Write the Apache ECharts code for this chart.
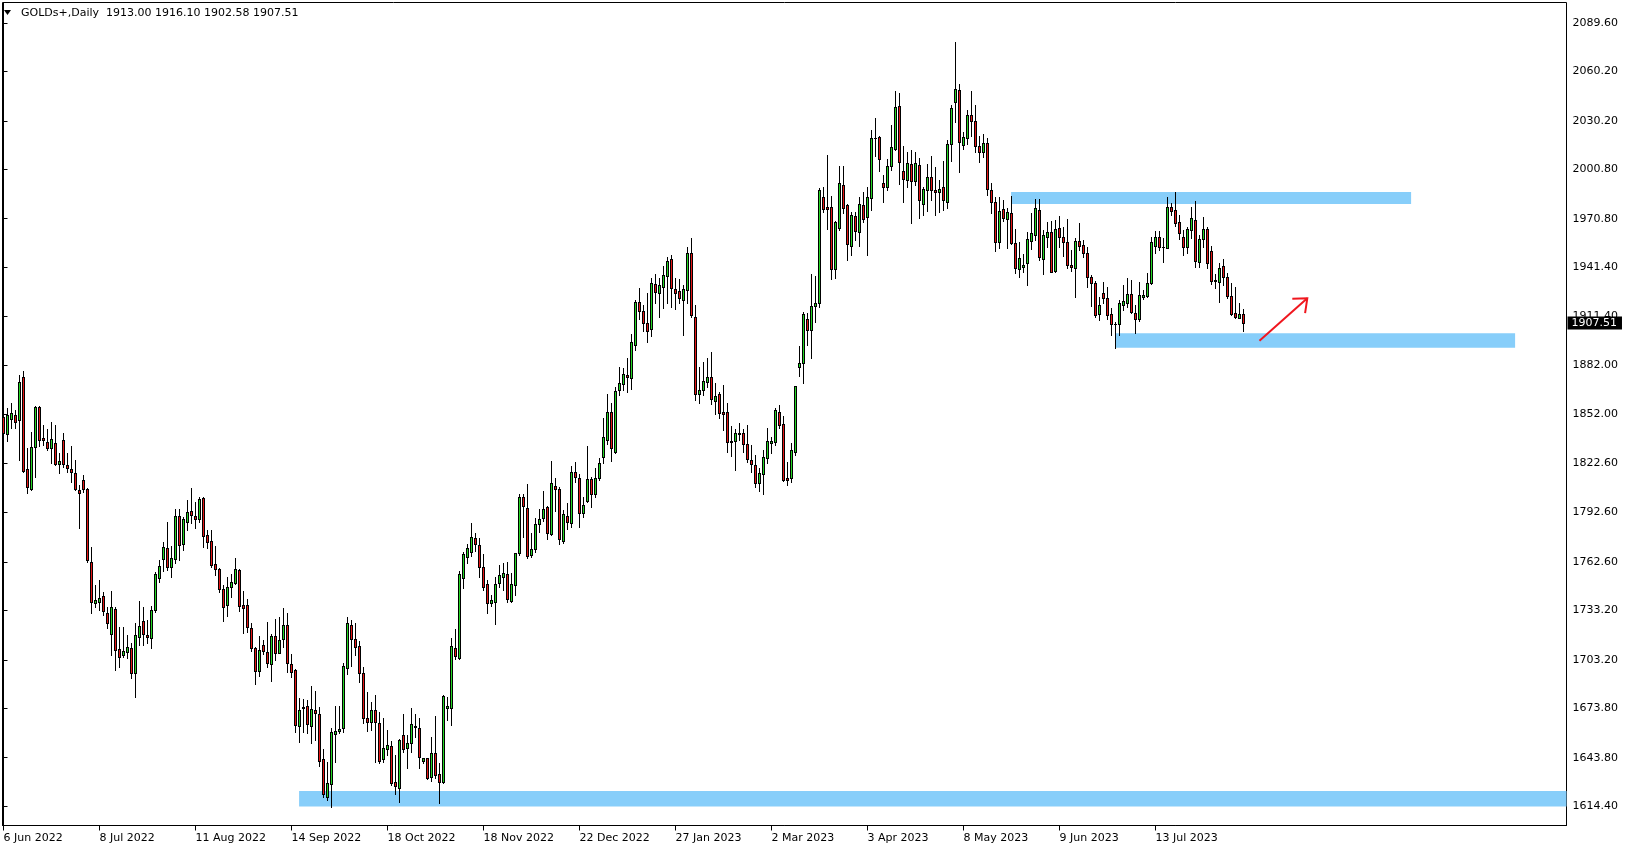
<!DOCTYPE html>
<html>
<head>
<meta charset="utf-8">
<script src="https://cdn.jsdelivr.net/npm/echarts@6/dist/echarts.min.js"></script>
<style>
html,body{margin:0;padding:0;background:#fff;}
#chart{width:1629px;height:850px;}
</style>
</head>
<body>
<div id="chart"></div>
<script>
// ---- data (bar index 0 = 6 Jun 2022, daily bars) ----
const symbolName = 'GOLDs+';
const timeframe = 'Daily';

const opens = [
1850.3,1840.2,1849.1,1851.5,1848.5,1874.8,1818.7,1806.6,1832.5,1856.4,
1837.5,1835.3,1831.5,1834.5,1821.8,1836.5,1821.2,1818.9,1816.3,1806.2,
1812.3,1806.6,1762.7,1737.5,1738.1,1741.9,1731.4,1718.9,1733.8,1709.6,
1706.1,1708.2,1710.2,1695.0,1716.8,1726.8,1718.2,1716.2,1733.4,1752.6,
1764.1,1770.8,1759.7,1764.6,1790.4,1773.3,1787.0,1793.3,1790.4,1788.4,
1801.2,1778.7,1775.1,1761.1,1758.1,1746.1,1736.2,1747.6,1750.0,1757.7,
1736.2,1736.2,1722.3,1710.2,1696.2,1712.0,1707.9,1700.5,1717.6,1707.5,
1715.6,1724.1,1700.7,1697.0,1663.2,1674.8,1675.2,1663.2,1672.7,1670.1,
1642.8,1620.2,1627.6,1658.4,1660.0,1661.6,1698.0,1724.3,1715.6,1711.6,
1695.0,1667.7,1665.3,1672.7,1664.6,1643.0,1648.9,1650.9,1629.3,1625.6,
1657.6,1649.5,1652.5,1662.6,1661.6,1641.8,1643.4,1632.3,1646.4,1633.7,
1629.3,1673.8,1673.8,1710.6,1704.1,1753.0,1765.4,1768.4,1776.9,1772.8,
1759.5,1749.2,1737.5,1738.5,1750.0,1753.6,1755.2,1739.1,1748.6,1767.8,
1801.8,1795.5,1766.8,1770.4,1785.4,1789.0,1795.7,1779.3,1808.8,1806.6,
1775.3,1790.6,1786.0,1816.9,1813.3,1792.1,1799.7,1812.7,1803.6,1813.3,
1826.0,1836.6,1853.3,1829.1,1866.9,1870.3,1875.9,1874.4,1894.2,1920.1,
1914.6,1907.3,1903.7,1931.0,1925.5,1929.6,1936.2,1946.1,1928.0,1927.0,
1921.5,1927.5,1949.8,1910.9,1864.4,1866.9,1871.5,1874.6,1860.4,1864.2,
1853.3,1853.3,1835.9,1835.9,1840.6,1840.6,1834.1,1824.4,1821.4,1810.3,
1815.9,1825.4,1834.9,1835.1,1853.3,1846.3,1813.3,1813.3,1829.5,1880.6,
1883.1,1909.8,1903.5,1918.0,1919.5,1983.8,1977.7,1977.7,1940.5,1964.9,
1991.2,1979.1,1954.4,1972.4,1962.5,1979.1,1971.6,1983.2,2019.6,2020.2,
1992.3,1990.2,2002.8,2013.1,2039.4,1999.7,1994.3,2004.0,1993.9,2003.4,
1979.5,1988.2,1996.3,1988.2,1986.8,1990.2,1980.7,2015.9,2041.8,2048.9,
2015.5,2019.6,2034.0,2030.0,2015.0,2011.0,2017.0,1988.2,1980.7,1956.5,
1976.7,1970.4,1974.1,1955.9,1940.1,1941.3,1943.7,1957.5,1960.9,1976.1,
1946.1,1959.9,1962.9,1939.3,1964.9,1959.9,1956.9,1942.7,1941.1,1957.3,
1954.8,1949.8,1935.2,1931.6,1913.0,1925.5,1922.5,1912.8,1906.9,1906.9,
1918.4,1919.9,1925.1,1913.8,1909.8,1923.5,1923.9,1931.6,1954.2,1959.5,
1953.8,1953.2,1977.7,1976.1,1969.0,1959.5,1953.8,1963.9,1970.0,1944.7,
1958.3,1964.3,1951.2,1933.6,1932.6,1942.1,1935.2,1923.9,1913.8,1910.8,
1913.00
];

const closes = [
1840.6,1851.5,1852.7,1847.3,1871.5,1817.9,1807.8,1832.5,1856.4,1836.5,
1836.5,1831.9,1836.9,1821.8,1823.6,1822.0,1819.4,1816.9,1806.6,1804.6,
1806.6,1763.7,1738.1,1739.5,1740.5,1733.0,1725.3,1735.0,1709.2,1704.7,
1708.5,1710.8,1695.4,1718.2,1723.7,1719.0,1716.8,1733.4,1755.1,1760.3,
1771.4,1759.3,1764.8,1790.4,1772.6,1788.4,1793.1,1791.2,1788.8,1800.5,
1778.5,1774.9,1760.9,1758.1,1745.9,1735.4,1747.2,1750.2,1758.1,1736.0,
1734.8,1723.3,1710.2,1696.6,1709.2,1708.7,1701.5,1717.6,1707.5,1715.2,
1724.1,1701.5,1696.0,1663.6,1672.7,1674.2,1664.0,1673.1,1670.7,1642.0,
1621.6,1628.3,1659.2,1660.0,1661.2,1699.4,1725.3,1715.6,1711.2,1695.0,
1667.7,1665.3,1672.7,1665.7,1642.0,1649.5,1651.5,1628.7,1626.9,1654.5,
1649.1,1652.5,1664.0,1662.9,1644.4,1643.4,1631.7,1646.4,1633.3,1629.3,
1681.2,1675.2,1711.6,1705.7,1755.0,1767.2,1770.8,1777.9,1773.2,1759.7,
1747.6,1737.5,1739.5,1749.2,1754.6,1755.7,1739.9,1749.2,1767.8,1802.2,
1796.7,1766.0,1770.4,1785.4,1788.4,1794.5,1780.3,1810.3,1806.6,1776.3,
1791.5,1786.6,1816.9,1813.9,1792.1,1797.1,1812.7,1803.6,1813.7,1822.8,
1838.6,1853.7,1831.9,1866.3,1870.9,1876.4,1875.0,1896.2,1920.1,1914.8,
1907.8,1902.8,1931.6,1926.5,1930.6,1936.4,1945.1,1928.6,1925.9,1922.5,
1928.0,1949.8,1912.4,1864.4,1866.9,1872.3,1874.6,1861.2,1863.4,1852.7,
1852.1,1835.1,1835.1,1841.0,1840.3,1834.1,1824.8,1821.8,1810.3,1816.7,
1826.0,1835.9,1835.9,1854.7,1845.6,1812.3,1812.3,1830.5,1869.3,1883.1,
1913.0,1903.3,1918.0,1919.5,1988.2,1976.7,1976.5,1940.5,1969.0,1992.3,
1977.5,1955.4,1973.0,1963.5,1979.5,1970.4,1983.8,2019.6,2019.9,2006.8,
1990.2,2002.8,2014.1,2038.4,2005.0,1994.7,2004.4,1993.9,2004.4,1982.1,
1988.8,1996.3,1988.2,1986.8,1988.6,1982.1,2015.9,2037.8,2049.5,2017.1,
2020.2,2033.7,2030.0,2015.0,2011.0,2017.0,1988.6,1981.1,1956.5,1975.5,
1971.0,1974.7,1956.3,1940.7,1946.8,1942.7,1958.3,1961.9,1977.1,1947.8,
1960.9,1962.5,1938.7,1964.3,1959.5,1956.9,1942.7,1941.3,1957.3,1954.4,
1949.8,1935.6,1931.6,1912.4,1918.2,1922.5,1912.4,1906.9,1906.7,1919.5,
1920.9,1925.1,1914.4,1909.8,1924.5,1924.5,1931.6,1956.5,1959.5,1953.4,
1953.9,1977.7,1975.7,1968.4,1961.9,1953.8,1964.3,1971.0,1945.3,1958.3,
1964.3,1943.7,1933.2,1932.8,1940.7,1935.6,1923.9,1913.0,1911.4,1912.8,
1907.51
];

const lows = [
1839.6,1836.1,1843.6,1843.6,1824.4,1817.3,1804.2,1806.2,1814.3,1832.9,
1833.5,1830.5,1822.4,1821.4,1816.3,1820.4,1817.3,1811.3,1806.2,1783.4,
1805.2,1762.7,1731.4,1735.0,1733.4,1730.4,1722.3,1706.1,1697.0,1699.0,
1705.1,1704.1,1692.0,1680.8,1712.2,1712.2,1713.2,1710.2,1732.4,1750.6,
1757.3,1757.7,1753.6,1762.1,1763.7,1769.8,1782.0,1786.4,1783.0,1787.0,
1771.8,1770.8,1759.3,1754.6,1744.5,1727.0,1730.0,1741.5,1749.2,1733.0,
1719.7,1720.3,1708.7,1688.3,1693.4,1706.7,1699.0,1690.5,1703.1,1707.1,
1711.2,1696.0,1693.0,1659.6,1653.5,1659.2,1658.6,1652.9,1654.5,1638.8,
1620.2,1618.0,1614.1,1641.0,1658.6,1659.2,1694.4,1699.6,1706.1,1689.9,
1664.6,1660.0,1660.6,1641.4,1640.4,1641.4,1645.5,1627.3,1621.6,1616.7,
1647.1,1637.3,1647.5,1656.6,1637.3,1640.4,1630.9,1629.7,1631.3,1616.1,
1628.3,1666.7,1663.6,1703.7,1703.7,1746.5,1761.7,1766.4,1769.2,1753.6,
1745.5,1731.8,1735.8,1724.9,1747.6,1745.5,1738.5,1738.5,1742.5,1766.8,
1777.9,1764.8,1765.5,1768.8,1780.5,1787.4,1776.5,1778.9,1793.5,1773.2,
1773.9,1782.6,1784.0,1810.9,1784.0,1790.0,1799.1,1796.1,1802.2,1812.3,
1822.4,1834.0,1823.8,1828.5,1863.8,1866.9,1865.9,1867.5,1891.1,1910.0,
1902.7,1895.7,1899.6,1919.9,1911.0,1916.4,1919.4,1917.4,1915.8,1919.9,
1900.2,1919.9,1910.9,1860.8,1858.8,1863.8,1868.5,1858.4,1852.3,1849.7,
1842.6,1829.5,1826.8,1818.3,1836.5,1829.5,1823.4,1817.3,1807.8,1805.8,
1803.8,1822.4,1828.9,1833.5,1843.6,1811.9,1809.2,1811.3,1827.5,1875.4,
1870.9,1894.0,1886.0,1908.0,1917.0,1974.7,1964.6,1934.0,1935.0,1963.9,
1974.0,1945.7,1948.8,1957.9,1954.4,1969.0,1948.8,1976.1,2009.0,1999.7,
1980.7,1988.2,2000.3,2012.5,1991.6,1980.7,1990.2,1968.4,1991.2,1971.0,
1973.0,1975.5,1982.1,1973.0,1975.1,1976.1,1977.1,2005.8,2029.7,1998.9,
2013.1,2016.0,2021.0,2011.0,2005.0,2008.0,1985.2,1974.1,1951.4,1953.2,
1969.6,1953.2,1955.4,1938.0,1935.6,1938.7,1930.6,1952.2,1957.9,1945.7,
1937.2,1953.8,1938.5,1938.7,1953.8,1948.2,1940.7,1939.3,1923.5,1951.8,
1947.4,1929.2,1917.8,1911.4,1909.4,1919.9,1909.8,1900.2,1892.2,1900.2,
1915.4,1917.4,1913.4,1901.2,1908.9,1921.9,1923.5,1931.2,1950.2,1951.8,
1944.7,1952.8,1973.0,1966.4,1958.3,1948.8,1950.2,1958.9,1941.7,1941.3,
1953.8,1940.7,1931.2,1928.6,1920.5,1930.6,1922.5,1912.4,1910.4,1910.4,
1902.58
];

const highs = [
1856.8,1855.7,1858.8,1854.7,1876.0,1878.4,1831.5,1841.6,1857.2,1857.0,
1845.6,1843.0,1847.7,1845.4,1828.5,1840.6,1828.9,1832.9,1824.4,1809.2,
1815.3,1807.2,1771.8,1748.6,1751.6,1744.5,1735.4,1745.1,1735.4,1723.3,
1723.3,1718.2,1713.2,1725.3,1739.1,1735.4,1727.4,1735.8,1756.7,1763.7,
1774.9,1787.0,1772.2,1794.5,1794.5,1790.0,1800.1,1807.2,1798.7,1802.2,
1801.8,1782.0,1782.0,1772.2,1758.7,1748.6,1753.2,1755.0,1764.8,1758.1,
1744.9,1739.9,1725.7,1710.8,1717.6,1715.2,1726.1,1718.8,1727.7,1729.4,
1734.4,1731.4,1706.7,1697.4,1679.8,1679.2,1678.8,1687.3,1684.5,1674.8,
1648.9,1641.4,1661.6,1675.4,1675.4,1701.0,1729.4,1727.3,1725.3,1714.6,
1699.0,1683.9,1677.8,1681.8,1671.7,1668.1,1660.6,1653.9,1645.5,1655.0,
1670.1,1657.6,1674.2,1670.1,1667.7,1643.8,1643.8,1656.6,1669.3,1640.4,
1681.8,1680.8,1716.2,1721.9,1757.1,1768.4,1773.2,1786.0,1779.9,1776.9,
1767.2,1751.6,1742.5,1753.6,1760.7,1761.7,1762.7,1755.7,1768.2,1803.6,
1803.6,1809.6,1779.9,1789.4,1794.7,1805.6,1796.7,1823.8,1813.3,1808.2,
1794.1,1798.1,1821.0,1823.0,1815.7,1802.2,1833.1,1814.3,1819.4,1825.4,
1849.7,1864.2,1858.8,1868.9,1881.0,1880.4,1886.1,1900.7,1921.5,1928.9,
1918.4,1925.5,1934.6,1937.3,1934.6,1942.1,1947.8,1948.8,1934.6,1934.0,
1930.6,1953.8,1958.9,1918.4,1880.6,1884.1,1886.1,1890.1,1871.3,1865.9,
1869.9,1859.2,1845.0,1843.0,1846.6,1843.0,1845.6,1833.5,1827.5,1819.4,
1830.5,1843.6,1838.2,1855.8,1857.8,1851.1,1823.4,1834.9,1869.5,1893.6,
1914.4,1913.5,1937.0,1936.0,1989.2,1990.2,2009.4,1984.6,1969.4,2002.8,
2002.8,1979.5,1974.7,1974.7,1983.8,1986.8,1989.8,2024.6,2031.7,2021.2,
1997.3,2007.0,2027.6,2048.3,2046.9,2014.9,2011.0,2012.5,2011.5,2007.4,
1990.2,2003.8,2008.8,2002.4,1994.3,2005.8,2018.5,2039.8,2078.2,2052.3,
2023.6,2037.0,2048.0,2040.0,2021.0,2022.0,2020.0,1992.2,1983.8,1983.8,
1982.1,1977.1,1984.6,1964.3,1956.7,1949.4,1962.9,1974.1,1982.5,1982.5,
1964.0,1969.0,1969.6,1970.0,1972.4,1966.0,1970.4,1951.8,1958.9,1968.0,
1957.9,1953.8,1936.6,1933.2,1923.1,1932.6,1929.6,1916.4,1908.3,1921.5,
1930.6,1934.6,1933.6,1918.4,1932.6,1927.5,1938.1,1959.5,1963.5,1963.5,
1958.9,1983.8,1980.5,1987.2,1973.1,1964.0,1966.0,1977.7,1981.7,1960.9,
1972.0,1965.6,1954.2,1937.2,1943.7,1946.1,1937.7,1931.6,1929.6,1919.9,
1916.10
];

// date labels along the time axis (bar index of each label)
const dateLabelIndex = [0,24,48,72,96,120,144,168,192,216,240,264,288];
const dateLabels = ['6 Jun 2022','8 Jul 2022','11 Aug 2022','14 Sep 2022','18 Oct 2022','18 Nov 2022',
  '22 Dec 2022','27 Jan 2023','2 Mar 2023','3 Apr 2023','8 May 2023','9 Jun 2023','13 Jul 2023'];

// price scale labels
const priceTicks = [2089.60,2060.20,2030.20,2000.80,1970.80,1941.40,1911.40,1882.00,
  1852.00,1822.60,1792.60,1762.60,1733.20,1703.20,1673.80,1643.80,1614.40];

// support / resistance zones [fromBar, toBar, lowPrice, highPrice]
const zoneResistance = [251.9, 351.9, 1979.7, 1987.0];
const zoneSupport    = [277.9, 377.9, 1892.5, 1901.3];
const zoneMajor      = [73.9, 390.75, 1614.2, 1623.6];

// arrow annotation [bar, price]
const arrowFrom = [314.0, 1896.8];
const arrowTo   = [325.95, 1922.5];

// ---- chart ----
const FONT = 'DejaVu Sans';
const BULL = '#24d624', BEAR = '#e41616';
const n = opens.length;
const last = n - 1;
const candleData = opens.map((o, i) => [i, o, closes[i], lows[i], highs[i]]);
const zoneData = [zoneResistance, zoneSupport, zoneMajor];
const fmt = v => Number(v).toFixed(2);
const headerText = symbolName + ',' + timeframe + '  ' +
  [opens[last], highs[last], lows[last], closes[last]].map(fmt).join(' ');

const yMin = 1602.69, yMax = 2101.95;

function renderCandle(params, api) {
  const i = api.value(0);
  const o = api.value(1), c = api.value(2), l = api.value(3), h = api.value(4);
  const pO = api.coord([i, o]), pC = api.coord([i, c]);
  const pL = api.coord([i, l]), pH = api.coord([i, h]);
  const col = Math.floor(pO[0]);
  const yTop = Math.round(Math.min(pO[1], pC[1]));
  const yBot = Math.round(Math.max(pO[1], pC[1]));
  const yHi = Math.round(pH[1]), yLo = Math.round(pL[1]);
  const children = [
    {type: 'rect', shape: {x: col, y: yHi, width: 1, height: Math.max(1, yLo - yHi + 1)}, style: {fill: '#000'}},
    {type: 'rect', shape: {x: col - 1, y: yTop, width: 3, height: yBot - yTop + 1}, style: {fill: '#000'}}
  ];
  if (yBot - yTop >= 2) {
    children.push({type: 'rect', shape: {x: col, y: yTop + 1, width: 1, height: yBot - yTop - 1},
      style: {fill: c >= o ? BULL : BEAR}});
  }
  return {type: 'group', children: children};
}

const chart = echarts.init(document.getElementById('chart'), null, {renderer: 'canvas'});

const option = {
  animation: false,
  backgroundColor: '#ffffff',
  title: {
    text: headerText,
    left: 21,
    top: 8,
    padding: 0,
    textStyle: {fontFamily: FONT, fontSize: 11, fontWeight: 'normal', color: '#000', lineHeight: 11}
  },
  grid: {
    left: 2.5, top: 2.5, width: 1564, height: 823,
    show: true, borderColor: '#000', borderWidth: 1, backgroundColor: '#fff',
    containLabel: false
  },
  xAxis: {
    type: 'value',
    min: -0.25, max: 390.75,
    axisLine: {show: true, lineStyle: {color: '#000', width: 1}},
    splitLine: {show: false},
    axisTick: {show: true, customValues: dateLabelIndex, length: 5, inside: false, lineStyle: {color: '#000'}},
    axisLabel: {
      customValues: dateLabelIndex,
      formatter: v => dateLabels[dateLabelIndex.indexOf(Math.round(v))] || '',
      align: 'left', margin: 7,
      fontFamily: FONT, fontSize: 11, color: '#000'
    }
  },
  yAxis: [{
    type: 'value',
    position: 'right',
    min: yMin, max: yMax,
    axisLine: {show: true, lineStyle: {color: '#000', width: 1}},
    splitLine: {show: false},
    axisTick: {show: true, customValues: priceTicks, length: 4, lineStyle: {color: '#000'}},
    axisLabel: {
      customValues: priceTicks,
      formatter: v => fmt(v),
      margin: 6, fontFamily: FONT, fontSize: 11, color: '#000'
    }
  }, {
    type: 'value',
    position: 'right',
    min: yMin, max: yMax,
    z: 5,
    axisLine: {show: false},
    splitLine: {show: false},
    axisTick: {show: false},
    axisLabel: {
      customValues: [closes[last]],
      formatter: v => fmt(v),
      margin: 1,
      fontFamily: FONT, fontSize: 11, color: '#fff', lineHeight: 11,
      backgroundColor: '#000', padding: [1, 5, 1, 4]
    }
  }],
  series: [{
    type: 'custom',
    name: 'zones',
    silent: true,
    z: 1,
    clip: true,
    data: zoneData,
    encode: {x: [0, 1], y: [2, 3]},
    renderItem: function (params, api) {
      const p1 = api.coord([api.value(0), api.value(3)]);
      const p2 = api.coord([api.value(1), api.value(2)]);
      const rect = echarts.graphic.clipRectByRect(
        {x: p1[0], y: p1[1], width: p2[0] - p1[0], height: p2[1] - p1[1]},
        {x: params.coordSys.x, y: params.coordSys.y, width: params.coordSys.width, height: params.coordSys.height}
      );
      return rect && {type: 'rect', shape: rect, style: {fill: '#87CEFA'}};
    }
  }, {
    type: 'custom',
    name: symbolName,
    z: 2,
    clip: true,
    data: candleData,
    encode: {x: 0, y: [1, 2, 3, 4]},
    renderItem: renderCandle
  }]
};
chart.setOption(option);

// arrow annotation positioned through the chart's own scales
const a0 = chart.convertToPixel({gridIndex: 0}, arrowFrom);
const a1 = chart.convertToPixel({gridIndex: 0}, arrowTo);
const dx = a0[0] - a1[0], dy = a0[1] - a1[1];
const len = Math.sqrt(dx * dx + dy * dy);
const ux = dx / len, uy = dy / len;
const headLen = 15, ang = 40 * Math.PI / 180;
const arm = s => [a1[0] + headLen * (ux * Math.cos(s * ang) - uy * Math.sin(s * ang)),
                  a1[1] + headLen * (ux * Math.sin(s * ang) + uy * Math.cos(s * ang))];
const red = '#f0161e';
chart.setOption({
  graphic: [
    {type: 'polygon', shape: {points: [[4, 10], [11, 10], [7.5, 15]]}, style: {fill: '#000'}, z: 10},
    {type: 'line', shape: {x1: a0[0], y1: a0[1], x2: a1[0], y2: a1[1]}, style: {stroke: red, lineWidth: 2}, z: 10},
    {type: 'polyline', shape: {points: [arm(1), a1, arm(-1)]}, style: {stroke: red, lineWidth: 2, fill: null}, z: 10}
  ]
});
</script>
</body>
</html>
